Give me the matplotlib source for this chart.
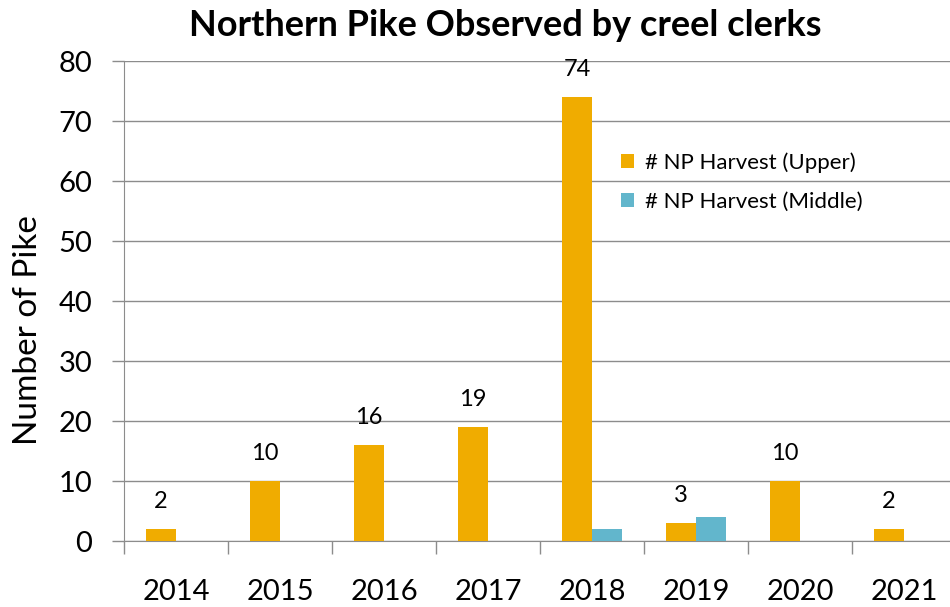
import numpy as np
import matplotlib.pyplot as plt

# data
years = ["2014", "2015", "2016", "2017", "2018", "2019", "2020", "2021"]
upper = [2, 10, 16, 19, 74, 3, 10, 2]
middle = [0, 0, 0, 0, 2, 4, 0, 0]

UPPER_COLOR = "#F0AC00"
MIDDLE_COLOR = "#62B6CC"
GRID_COLOR = "#8C8C8C"

plt.rcParams["font.family"] = ["Lato", "DejaVu Sans"]

fig = plt.figure(figsize=(9.5, 6.07), dpi=100)
# plot area: left edge at x=124, y=0 at 541, y=80 at 61; right runs past the image
ax = fig.add_axes([124 / 950, (607 - 541) / 607, (956 - 124) / 950, 480 / 607])

x = np.arange(len(years))
w = 0.29
ax.bar(x - w / 2, upper, w, color=UPPER_COLOR, label="# NP Harvest (Upper)", zorder=3)
ax.bar(x + w / 2, middle, w, color=MIDDLE_COLOR, label="# NP Harvest (Middle)", zorder=3)

for xi, v in zip(x, upper):
    ax.annotate(str(v), (xi - w / 2, v), xytext=(0, 15), textcoords="offset points",
                ha="center", va="baseline", fontsize=17)

ax.set_xlim(-0.5, len(years) - 0.5)
ax.set_ylim(0, 80)
ax.set_yticks(range(0, 81, 10))
ax.yaxis.grid(True, color=GRID_COLOR, linewidth=1)
ax.set_axisbelow(True)

# boundary ticks without labels, labels at category centres
ax.set_xticks(np.arange(-0.5, len(years), 1.0))
ax.set_xticklabels([])
ax.set_xticks(x, minor=True)
ax.set_xticklabels(years, minor=True, fontsize=21)
ax.tick_params(axis="x", which="major", length=9, color=GRID_COLOR, width=1)
ax.tick_params(axis="x", which="minor", length=0, pad=27)
ax.tick_params(axis="y", length=9, color=GRID_COLOR, width=1, labelsize=21, pad=14)

for s in ["top", "right"]:
    ax.spines[s].set_visible(False)
ax.spines["left"].set_color(GRID_COLOR)
ax.spines["bottom"].set_color(GRID_COLOR)

ax.set_ylabel("Number of Pike", fontsize=24)
ax.yaxis.set_label_coords((43 - 124) / 832, (541 - 330) / 480)

fig.text(505 / 950, 1 - 26 / 607, "Northern Pike Observed by creel clerks",
         ha="center", va="center", fontsize=26, fontweight="bold")

ax.legend(loc="upper left", bbox_to_anchor=(601 / 950, 1 - 132 / 607),
          bbox_transform=fig.transFigure, frameon=False, fontsize=16,
          handlelength=0.6, handleheight=0.6, handletextpad=0.5, labelspacing=0.85)

fig.savefig("out.png", dpi=100)
